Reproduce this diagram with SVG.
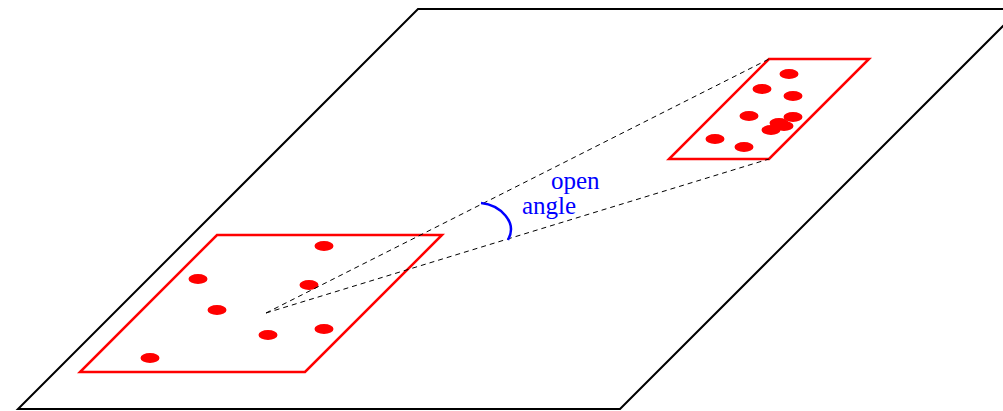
<svg xmlns="http://www.w3.org/2000/svg" width="1003" height="411" viewBox="0 0 1003 411">
<style>
.plane{fill:none;stroke:#000;stroke-width:2}
.patch{fill:none;stroke:#f00;stroke-width:2.5}
.dot{fill:#f00}
.ray{fill:none;stroke:#000;stroke-width:1;stroke-dasharray:5 4}
.arc{fill:none;stroke:#00f;stroke-width:2.5}
.lbl{font-family:"Liberation Serif",serif;font-size:25px;fill:#00f}
</style>
<rect width="1003" height="411" fill="#fff"/>
<g id="plane"><polygon class="plane" points="418,9 1020,9 620,409 18,409"/></g>
<g id="patch-left">
<polygon class="patch" points="217,235 442,235 305,372 80,372"/>
<ellipse class="dot" cx="324" cy="246" rx="9.5" ry="5"/>
<ellipse class="dot" cx="198" cy="279" rx="9.5" ry="5"/>
<ellipse class="dot" cx="309" cy="285" rx="9.5" ry="5"/>
<ellipse class="dot" cx="217" cy="310" rx="9.5" ry="5"/>
<ellipse class="dot" cx="268" cy="335" rx="9.5" ry="5"/>
<ellipse class="dot" cx="324" cy="329" rx="9.5" ry="5"/>
<ellipse class="dot" cx="150" cy="358" rx="9.5" ry="5"/>
</g>
<g id="patch-right">
<polygon class="patch" points="769,59 869,59 769,159 669,159"/>
<ellipse class="dot" cx="789" cy="74" rx="9.5" ry="5"/>
<ellipse class="dot" cx="762" cy="89" rx="9.5" ry="5"/>
<ellipse class="dot" cx="793" cy="96" rx="9.5" ry="5"/>
<ellipse class="dot" cx="749" cy="116" rx="9.5" ry="5"/>
<ellipse class="dot" cx="793" cy="117" rx="9.5" ry="5"/>
<ellipse class="dot" cx="779" cy="123" rx="9.5" ry="5"/>
<ellipse class="dot" cx="784" cy="126" rx="9.5" ry="5"/>
<ellipse class="dot" cx="771" cy="130" rx="9.5" ry="5"/>
<ellipse class="dot" cx="715" cy="139" rx="9.5" ry="5"/>
<ellipse class="dot" cx="744" cy="147" rx="9.5" ry="5"/>
</g>
<g id="connectors">
<line class="ray" x1="266" y1="313" x2="769" y2="59"/>
<line class="ray" x1="266" y1="313" x2="769" y2="159"/>
</g>
<g id="angle">
<path class="arc" d="M481,203 C500,205 518,222 508,240"/>
<text class="lbl" x="551" y="189">open</text>
<text class="lbl" x="522" y="214">angle</text>
</g>
</svg>
